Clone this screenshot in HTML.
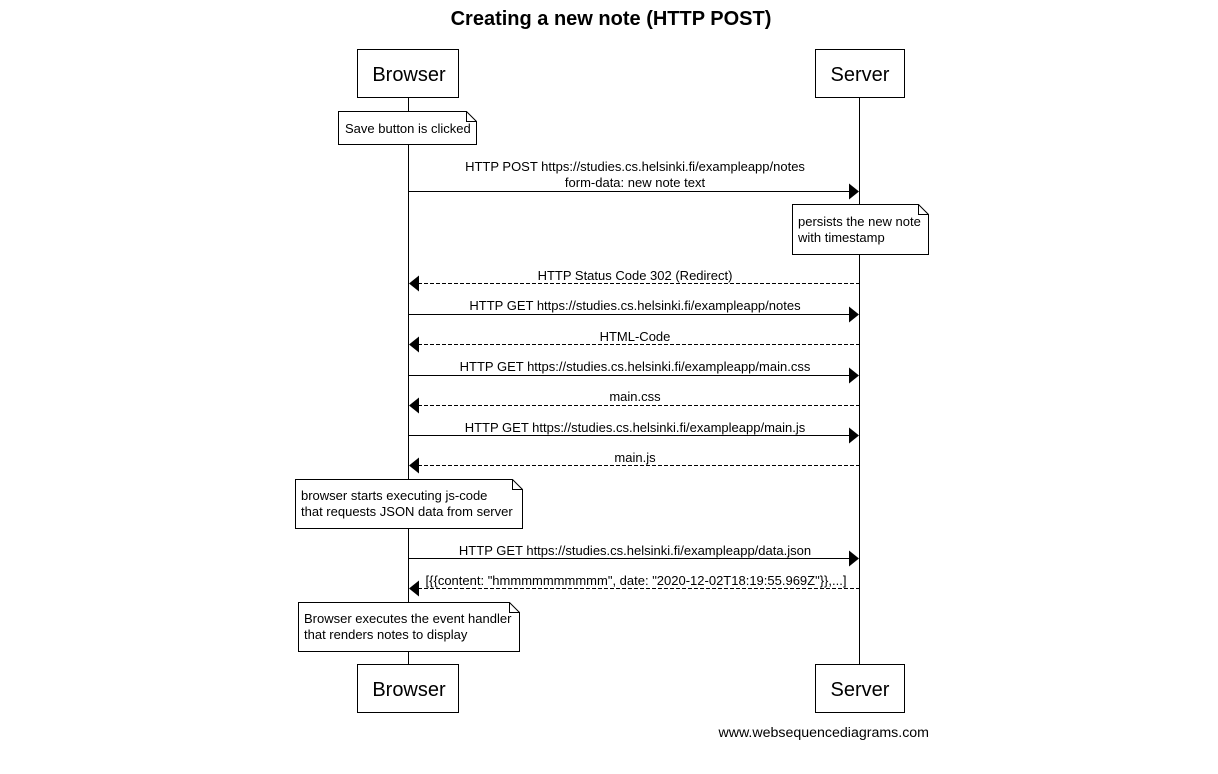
<!DOCTYPE html>
<html><head><meta charset="utf-8"><style>html,body{margin:0;padding:0;background:#fff}svg{display:block}text{font-family:"Liberation Sans",Arial,sans-serif;fill:#000}</style></head><body>
<svg width="1218" height="774" viewBox="0 0 1218 774" xmlns="http://www.w3.org/2000/svg">
<text x="611" y="25" font-size="20" font-weight="bold" text-anchor="middle">Creating a new note (HTTP POST)</text>
<g stroke="#000" stroke-width="1" fill="none">
<line x1="408.5" y1="98" x2="408.5" y2="664"/>
<line x1="859.5" y1="98" x2="859.5" y2="664"/>
</g>
<g stroke="#000" fill="#fff">
<rect x="357.5" y="49.5" width="101" height="48"/>
<rect x="815.5" y="49.5" width="89" height="48"/>
<rect x="357.5" y="664.5" width="101" height="48"/>
<rect x="815.5" y="664.5" width="89" height="48"/>
</g>
<g font-size="20" text-anchor="middle">
<text x="409" y="81">Browser</text><text x="860" y="81">Server</text>
<text x="409" y="696">Browser</text><text x="860" y="696">Server</text>
</g>
<g stroke="#000" fill="#fff">
<path d="M338.5 111.5H466.5L476.5 121.5V144.5H338.5Z"/><path d="M466.5 111.5V121.5H476.5" fill="none"/>
<path d="M792.5 204.5H918.5L928.5 214.5V254.5H792.5Z"/><path d="M918.5 204.5V214.5H928.5" fill="none"/>
<path d="M295.5 479.5H512.5L522.5 489.5V528.5H295.5Z"/><path d="M512.5 479.5V489.5H522.5" fill="none"/>
<path d="M298.5 602.5H509.5L519.5 612.5V651.5H298.5Z"/><path d="M509.5 602.5V612.5H519.5" fill="none"/>
</g>
<g font-size="13">
<text x="345" y="133">Save button is clicked</text>
<text x="798" y="226">persists the new note</text><text x="798" y="242">with timestamp</text>
<text x="301" y="500">browser starts executing js-code</text><text x="301" y="516">that requests JSON data from server</text>
<text x="304" y="623">Browser executes the event handler</text><text x="304" y="639">that renders notes to display</text>
</g>
<g stroke="#000" stroke-width="1">
<line x1="409" y1="191.5" x2="850" y2="191.5"/>
<line x1="418" y1="283.5" x2="859" y2="283.5" stroke-dasharray="4,2"/>
<line x1="409" y1="314.5" x2="850" y2="314.5"/>
<line x1="418" y1="344.5" x2="859" y2="344.5" stroke-dasharray="4,2"/>
<line x1="409" y1="375.5" x2="850" y2="375.5"/>
<line x1="418" y1="405.5" x2="859" y2="405.5" stroke-dasharray="4,2"/>
<line x1="409" y1="435.5" x2="850" y2="435.5"/>
<line x1="418" y1="465.5" x2="859" y2="465.5" stroke-dasharray="4,2"/>
<line x1="409" y1="558.5" x2="850" y2="558.5"/>
<line x1="418" y1="588.5" x2="859" y2="588.5" stroke-dasharray="4,2"/>
</g>
<g fill="#000">
<path d="M859 191.5L849 183.5V199.5Z"/>
<path d="M409 283.5L419 275.5V291.5Z"/>
<path d="M859 314.5L849 306.5V322.5Z"/>
<path d="M409 344.5L419 336.5V352.5Z"/>
<path d="M859 375.5L849 367.5V383.5Z"/>
<path d="M409 405.5L419 397.5V413.5Z"/>
<path d="M859 435.5L849 427.5V443.5Z"/>
<path d="M409 465.5L419 457.5V473.5Z"/>
<path d="M859 558.5L849 550.5V566.5Z"/>
<path d="M409 588.5L419 580.5V596.5Z"/>
</g>
<g font-size="13" text-anchor="middle">
<text x="635" y="171">HTTP POST https://studies.cs.helsinki.fi/exampleapp/notes</text>
<text x="635" y="187">form-data: new note text</text>
<text x="635" y="280">HTTP Status Code 302 (Redirect)</text>
<text x="635" y="310">HTTP GET https://studies.cs.helsinki.fi/exampleapp/notes</text>
<text x="635" y="341">HTML-Code</text>
<text x="635" y="371">HTTP GET https://studies.cs.helsinki.fi/exampleapp/main.css</text>
<text x="635" y="401">main.css</text>
<text x="635" y="432">HTTP GET https://studies.cs.helsinki.fi/exampleapp/main.js</text>
<text x="635" y="462">main.js</text>
<text x="635" y="555">HTTP GET https://studies.cs.helsinki.fi/exampleapp/data.json</text>
<text x="636" y="585">[{{content: "hmmmmmmmmmm", date: "2020-12-02T18:19:55.969Z"}},...]</text>
</g>
<text x="929" y="737" font-size="14.2" text-anchor="end">www.websequencediagrams.com</text>
</svg>
</body></html>
